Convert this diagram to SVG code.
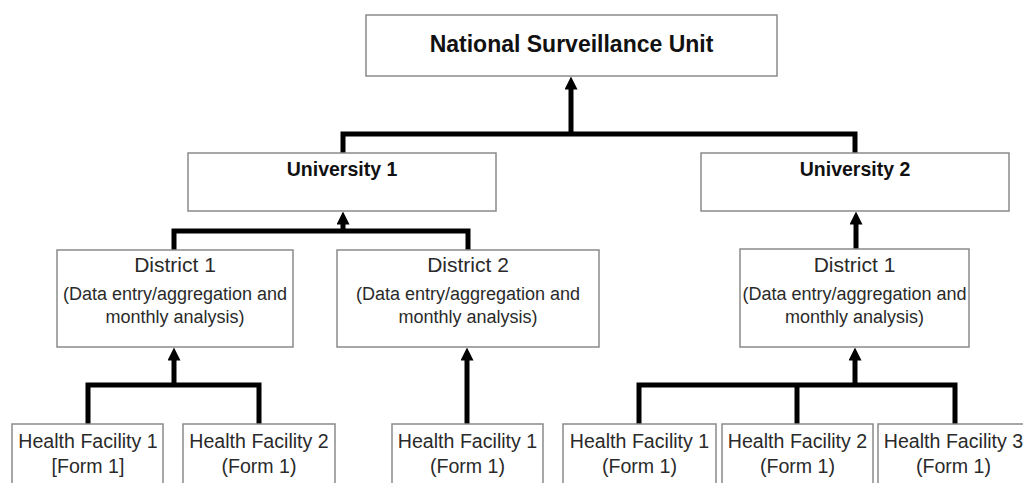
<svg xmlns="http://www.w3.org/2000/svg" width="1023" height="483" viewBox="0 0 1023 483">
<style>
.box{fill:#fff;stroke:#8a8a8a;stroke-width:1.5}
.t{font-family:"Liberation Sans",Arial,sans-serif;fill:#2a2a2a;text-anchor:middle}
.b{font-weight:bold;fill:#111}
.n{font-size:23px}
.u{font-size:19.5px}
.d1{font-size:21px}
.d2{font-size:18px}
.h{font-size:19.6px}
.c{fill:none;stroke:#000;stroke-width:5;stroke-linejoin:miter}
</style>
<defs>
<marker id="ah" markerUnits="userSpaceOnUse" viewBox="0 0 13 13" markerWidth="13" markerHeight="13" refX="0.5" refY="6.5" orient="auto">
<path d="M0,0 L13,6.5 L0,13 z" fill="#000"/>
</marker>
</defs>
<rect width="1023" height="483" fill="#fff"/>
<g id="connectors">
<path class="c" d="M343,153 V134 H855 V153"/>
<path class="c" d="M571,134 V89" marker-end="url(#ah)"/>
<path class="c" d="M174,250 V231 H468 V250"/>
<path class="c" d="M343,231 V224" marker-end="url(#ah)"/>
<path class="c" d="M856,249 V224" marker-end="url(#ah)"/>
<path class="c" d="M88,424 V385 H259 V424"/>
<path class="c" d="M174,385 V360" marker-end="url(#ah)"/>
<path class="c" d="M467,424 V360" marker-end="url(#ah)"/>
<path class="c" d="M639,424 V385 H955 V424"/>
<path class="c" d="M797,385 V424"/>
<path class="c" d="M855,385 V360" marker-end="url(#ah)"/>
</g>
<g id="national">
<rect class="box" x="366" y="15" width="411" height="61"/>
<text class="t b n" x="571.5" y="52">National Surveillance Unit</text>
</g>
<g id="university1">
<rect class="box" x="188" y="153" width="308" height="58"/>
<text class="t b u" x="342" y="176">University 1</text>
</g>
<g id="university2">
<rect class="box" x="701" y="153" width="308" height="58"/>
<text class="t b u" x="855" y="176">University 2</text>
</g>
<g id="u1-district1">
<rect class="box" x="57" y="250" width="236" height="97"/>
<text class="t d1" x="175" y="272">District 1</text>
<text class="t d2" x="175" y="300">(Data entry/aggregation and</text>
<text class="t d2" x="175" y="323">monthly analysis)</text>
</g>
<g id="u1-district2">
<rect class="box" x="337" y="250" width="262" height="97"/>
<text class="t d1" x="468" y="272">District 2</text>
<text class="t d2" x="468" y="300">(Data entry/aggregation and</text>
<text class="t d2" x="468" y="323">monthly analysis)</text>
</g>
<g id="u2-district1">
<rect class="box" x="740" y="249" width="229" height="98"/>
<text class="t d1" x="854.5" y="272">District 1</text>
<text class="t d2" x="854.5" y="300">(Data entry/aggregation and</text>
<text class="t d2" x="854.5" y="323">monthly analysis)</text>
</g>
<g id="d1-hf1">
<rect class="box" x="12" y="424" width="151" height="70"/>
<text class="t h" x="88" y="448">Health Facility 1</text>
<text class="t h" x="88" y="473">[Form 1]</text>
</g>
<g id="d1-hf2">
<rect class="box" x="183" y="424" width="152" height="70"/>
<text class="t h" x="259" y="448">Health Facility 2</text>
<text class="t h" x="259" y="473">(Form 1)</text>
</g>
<g id="d2-hf1">
<rect class="box" x="392" y="424" width="151" height="70"/>
<text class="t h" x="467.5" y="448">Health Facility 1</text>
<text class="t h" x="467.5" y="473">(Form 1)</text>
</g>
<g id="u2d1-hf1">
<rect class="box" x="563" y="424" width="153" height="70"/>
<text class="t h" x="639.5" y="448">Health Facility 1</text>
<text class="t h" x="639.5" y="473">(Form 1)</text>
</g>
<g id="u2d1-hf2">
<rect class="box" x="722" y="424" width="151" height="70"/>
<text class="t h" x="797.5" y="448">Health Facility 2</text>
<text class="t h" x="797.5" y="473">(Form 1)</text>
</g>
<g id="u2d1-hf3">
<rect class="box" x="878" y="424" width="151" height="70"/>
<text class="t h" x="953.5" y="448">Health Facility 3</text>
<text class="t h" x="953.5" y="473">(Form 1)</text>
</g>
</svg>
